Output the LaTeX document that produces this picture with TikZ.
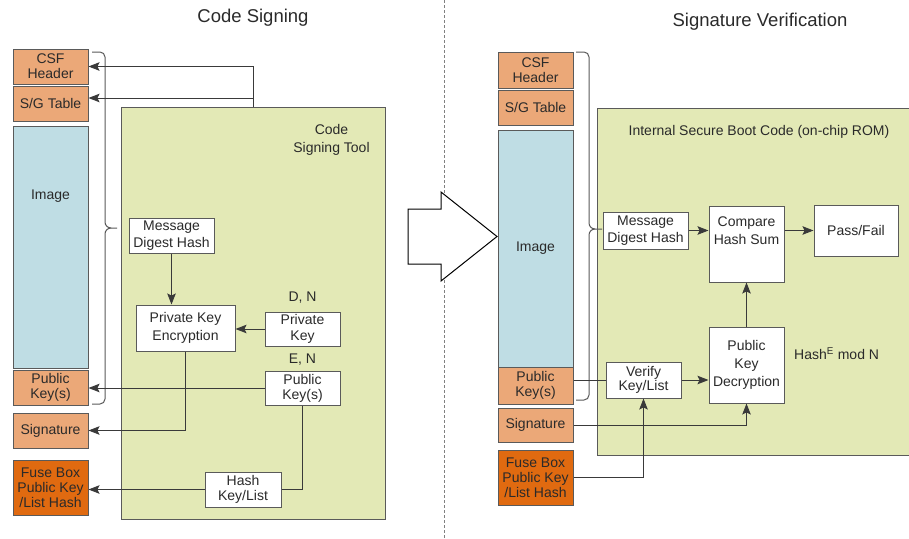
\documentclass[tikz,border=0pt]{standalone}
\usepackage{fontspec}
\setmainfont{Liberation Sans}
\usetikzlibrary{arrows.meta}
\definecolor{lorange}{HTML}{EBA878}
\definecolor{dorange}{HTML}{E06A10}
\definecolor{lblue}{HTML}{BFDDE4}
\definecolor{lgreen}{HTML}{E3E9B6}
\definecolor{boxgray}{HTML}{5A5A5A}
\definecolor{txt}{HTML}{2A2A2A}
\definecolor{linegray}{HTML}{3A3A3A}
\begin{document}
\begin{tikzpicture}[x=1pt,y=-1pt,
  box/.style={draw=boxgray, line width=1pt, fill=white, inner sep=0pt, align=center, text=txt,
    font=\fontsize{14}{15}\selectfont},
  sz/.style 2 args={minimum width=#1pt, minimum height=#2pt},
  orangebox/.style={box, fill=lorange},
  fusebox/.style={box, fill=dorange},
  imgbox/.style={box, fill=lblue},
  greenbox/.style={draw=boxgray, line width=1pt, fill=lgreen, inner sep=0pt},
  lbl/.style={text=txt, inner sep=0pt, align=center, font=\fontsize{14}{15}\selectfont},
  title/.style={text=txt, inner sep=0pt, font=\fontsize{18.5}{20}\selectfont},
  arr/.style={draw=linegray, line width=1pt, -{Stealth[length=11pt,width=8.5pt,inset=2pt]}},
  conn/.style={draw=linegray, line width=1pt},
  brace/.style={draw=boxgray, line width=1pt},
  bigarrow/.style={draw=black, line width=1pt, fill=white, line join=miter}
]
\useasboundingbox (0,0) rectangle (909,538);
\clip (0,0) rectangle (909,538);
\fill[white] (0,0) rectangle (909,538);

% separator
\draw[gray, line width=0.8pt, dash pattern=on 3pt off 2pt] (444,0) -- (444,538);

% titles
\node[title] (t1) at (253,18) {Code Signing};
\node[title] (t2) at (760,22) {Signature Verification};

% ================= LEFT =================
\node[greenbox, sz={264}{412}] (lgr) at (253,313) {};
\node[lbl, font=\fontsize{14}{18}\selectfont] (lcst) at (331.5,140) {Code\\Signing Tool};

\node[orangebox, sz={75}{35}] (lcsf) at (50.5,66.5) {CSF\\Header};
\node[orangebox, sz={75}{35}] (lsg) at (50.5,103.5) {S/G Table};
\node[imgbox, sz={75}{242}] (limg) at (50.5,247) {};
\node[lbl] (limgt) at (50.5,196) {Image};
\node[orangebox, sz={75}{35}] (lpk) at (50.5,387.5) {Public\\Key(s)};
\node[orangebox, sz={75}{35}] (lsig) at (50.5,430.5) {Signature};
\node[fusebox, sz={75}{55}] (lfuse) at (50.5,487.5) {Fuse Box\\Public Key\\/List Hash};

\node[box, sz={85}{35}, font=\fontsize{14}{16.5}\selectfont] (lmdh) at (171.5,235.5) {Message\\Digest Hash};
\node[box, sz={99}{46}, font=\fontsize{14}{18.5}\selectfont] (lpke) at (185.5,328) {Private Key\\Encryption};
\node[box, sz={75}{34}, font=\fontsize{14}{16}\selectfont] (lpriv) at (302.5,329) {Private\\Key};
\node[lbl] (ldn) at (302.5,298) {D, N};
\node[box, sz={75}{34}] (lpub) at (302.5,388) {Public\\Key(s)};
\node[lbl] (len) at (302.5,360) {E, N};
\node[box, sz={76}{35}] (lhash) at (243,489.5) {Hash\\Key/List};

% left brace
\draw[brace] (92,52) -- (100,52) to[out=0,in=90] (105,57) -- (105,222)
  to[out=-90,in=180] (111,228) -- (117,228);
\draw[brace] (111,228) to[out=180,in=90] (105,234) -- (105,399)
  to[out=-90,in=0] (100,404) -- (92,404);

% left connectors
\coordinate (ltop) at (253,107);
\coordinate (lbr) at (253,98);
\draw[arr] (ltop) |- (lcsf.east);
\draw[arr] (lbr) -- (lbr -| lsg.east);
\draw[arr] (lmdh.south) -- (lmdh.south |- lpke.north);
\draw[arr] (lpriv.west) -- (lpke.east |- lpriv.west);
\draw[arr] (lpub.west) -- (lpk.east |- lpub.west);
\draw[arr] (lpke.south) |- (lsig.east);
\draw[conn] (lpub.south) |- (lhash.east);
\draw[arr] (lhash.west) -- (lfuse.east |- lhash.west);

% ================= BIG ARROW =================
\draw[bigarrow] (408,209) -- (441,209) -- (441,192) -- (497,236.5) -- (441,281) -- (441,264) -- (408,264) -- cycle;

% ================= RIGHT =================
\node[greenbox, sz={320}{347}] (rgr) at (757,281.5) {};
\node[lbl] (ristitle) at (759,132) {Internal Secure Boot Code (on-chip ROM)};

\node[orangebox, sz={75}{36}] (rcsf) at (535.5,70) {CSF\\Header};
\node[orangebox, sz={75}{35}] (rsg) at (535.5,107.5) {S/G Table};
\node[imgbox, sz={75}{237}] (rimg) at (535.5,248.5) {Image};
\node[orangebox, sz={75}{37}] (rpk) at (535.5,385.5) {Public\\Key(s)};
\node[orangebox, sz={75}{34}] (rsig) at (535.5,425) {Signature};
\node[fusebox, sz={75}{55}] (rfuse) at (535.5,477.5) {Fuse Box\\Public Key\\/List Hash};

\node[box, sz={85}{37}, font=\fontsize{14}{16.5}\selectfont] (rmdh) at (645.5,230.5) {Message\\Digest Hash};
\node[box, sz={75}{76}] (rcmp) at (746.5,244) {};
\node[lbl, font=\fontsize{14}{18}\selectfont] (rcmpt) at (746.5,231) {Compare\\Hash Sum};
\node[box, sz={84}{51}] (rpass) at (856,230.5) {Pass/Fail};
\node[box, sz={75}{76}, font=\fontsize{14}{18}\selectfont] (rpkd) at (746.5,365) {Public\\Key\\Decryption};
\node[box, sz={75}{36}, font=\fontsize{14}{14.5}\selectfont] (rver) at (643.5,380) {Verify\\Key/List};
\node[lbl, anchor=west] (rhash) at (794,354) {Hash\textsuperscript{E} mod N};

% right brace
\draw[brace] (576,52) -- (584,52) to[out=0,in=90] (589,57) -- (589,223)
  to[out=-90,in=180] (595,229) -- (602,229);
\draw[brace] (595,229) to[out=180,in=90] (589,235) -- (589,395)
  to[out=-90,in=0] (584,400) -- (576,400);

% right connectors
\draw[arr] (rmdh.east) -- (rcmp.west |- rmdh.east);
\draw[arr] (rcmp.east |- rpass.west) -- (rpass.west);
\draw[arr] (rpkd.north) -- (rcmp.south);
\draw[conn] (rpk.east |- rver.west) -- (rver.west);
\draw[arr] (rver.east) -- (rpkd.west |- rver.east);
\draw[arr] (rsig.east) -| (rpkd.south);
\draw[arr] (rfuse.east) -| (rver.south);
\end{tikzpicture}
\end{document}
